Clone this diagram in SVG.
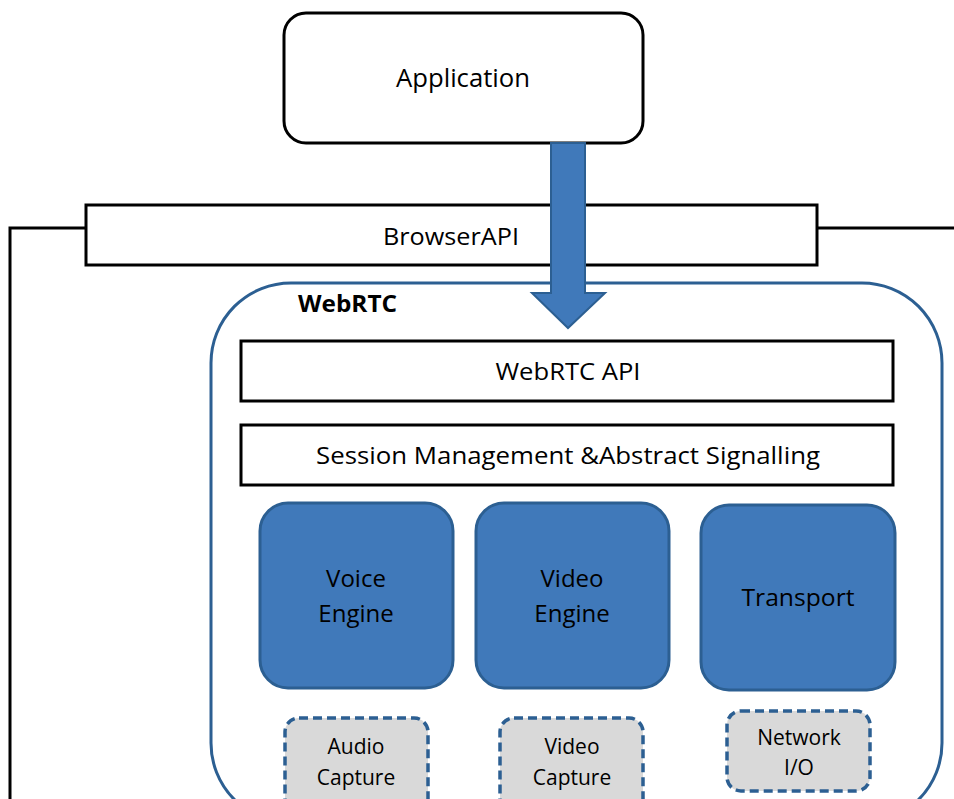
<svg xmlns="http://www.w3.org/2000/svg" width="954" height="799" viewBox="0 0 954 799">
<defs>
<style>
.t{font-family:"Open Sans","Liberation Sans",sans-serif;fill:#000;text-anchor:middle}
.box{fill:#fff;stroke:#000;stroke-width:3}
.eng{fill:#4079ba;stroke:#2c5f92;stroke-width:3}
.cap{fill:#d9d9d9;stroke:#2c5f92;stroke-width:3.5;stroke-dasharray:9 5}
</style>
</defs>
<rect width="954" height="799" fill="#fff"/>
<g id="connectors" fill="none" stroke="#000" stroke-width="3">
<polyline points="86,228 10,228 10,799"/>
<line x1="817" y1="228" x2="954" y2="228"/>
</g>
<g id="application">
<rect class="box" x="284" y="13" width="359" height="130" rx="22"/>
<text class="t" x="463" y="87" font-size="25" textLength="134" lengthAdjust="spacingAndGlyphs">Application</text>
</g>
<g id="browserapi">
<rect class="box" x="86" y="205" width="731" height="60"/>
<text class="t" x="451" y="245" font-size="24" textLength="136" lengthAdjust="spacingAndGlyphs">BrowserAPI</text>
</g>
<g id="webrtc">
<rect x="211" y="283" width="731" height="540" rx="80" fill="#fff" stroke="#2c5f92" stroke-width="3"/>
<text x="298" y="312" font-family="'Open Sans','Liberation Sans',sans-serif" font-weight="bold" font-size="23" textLength="99" lengthAdjust="spacingAndGlyphs">WebRTC</text>
</g>
<g id="arrow">
<polygon points="551,143 585,143 585,293 605,293 568,328 532,293 551,293" fill="#4079ba" stroke="#2c5f92" stroke-width="2"/>
</g>
<g id="webrtc-api">
<rect class="box" x="241" y="341" width="652" height="60"/>
<text class="t" x="568" y="380" font-size="24" textLength="145" lengthAdjust="spacingAndGlyphs">WebRTC API</text>
</g>
<g id="session">
<rect class="box" x="241" y="425" width="652" height="60"/>
<text class="t" x="568" y="464" font-size="24" textLength="504" lengthAdjust="spacingAndGlyphs">Session Management &amp;Abstract Signalling</text>
</g>
<g id="voice-engine">
<rect class="eng" x="260" y="503" width="193" height="185" rx="28"/>
<text class="t" x="356" y="587" font-size="24">Voice</text>
<text class="t" x="356" y="622" font-size="24">Engine</text>
</g>
<g id="video-engine">
<rect class="eng" x="476" y="503" width="193" height="185" rx="28"/>
<text class="t" x="572" y="587" font-size="24">Video</text>
<text class="t" x="572" y="622" font-size="24">Engine</text>
</g>
<g id="transport">
<rect class="eng" x="701" y="505" width="194" height="185" rx="28"/>
<text class="t" x="798" y="606" font-size="24" textLength="113" lengthAdjust="spacingAndGlyphs">Transport</text>
</g>
<g id="audio-capture">
<rect class="cap" x="285" y="718" width="143" height="100" rx="14"/>
<text class="t" x="356" y="754" font-size="21">Audio</text>
<text class="t" x="356" y="785" font-size="21">Capture</text>
</g>
<g id="video-capture">
<rect class="cap" x="500" y="718" width="143" height="100" rx="14"/>
<text class="t" x="572" y="754" font-size="21">Video</text>
<text class="t" x="572" y="785" font-size="21">Capture</text>
</g>
<g id="network-io">
<rect class="cap" x="727" y="711" width="143" height="80" rx="14"/>
<text class="t" x="799" y="745" font-size="21">Network</text>
<text class="t" x="799" y="775" font-size="21">I/O</text>
</g>
</svg>
